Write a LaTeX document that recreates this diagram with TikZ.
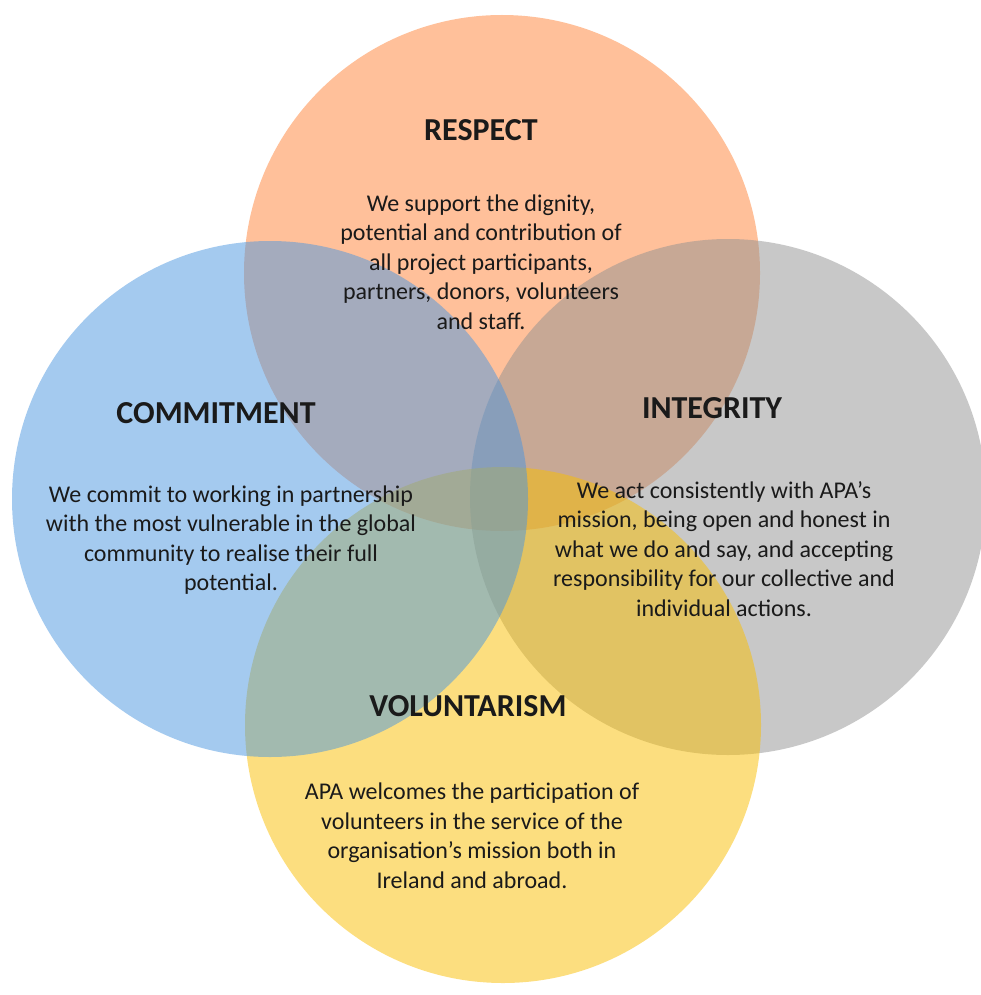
\documentclass[tikz,border=0pt]{standalone}
\usepackage{fontspec}
\setmainfont{Carlito}
\definecolor{respectorange}{HTML}{FF8135}
\definecolor{integritygray}{HTML}{919191}
\definecolor{voluntyellow}{HTML}{FABE00}
\definecolor{commitblue}{HTML}{4A96E0}
\definecolor{txtblack}{HTML}{1A1A1A}
\tikzset{
  venn/.style={circle, minimum size=516pt, inner sep=0pt, fill opacity=0.5},
  headtxt/.style={text=txtblack, font=\fontsize{32}{38}\selectfont\bfseries},
  bodytxt/.style={text=txtblack, align=center, font=\fontsize{24}{29.5}\selectfont},
}
\begin{document}
\begin{tikzpicture}[x=1pt,y=-1pt]
  \useasboundingbox (0,0) rectangle (981,995);
  \begin{scope}[every node/.style={venn}]
    \node[fill=respectorange] (respectC) at (502,273) {};
    \node[fill=integritygray] (integrityC) at (728,497) {};
    \node[fill=voluntyellow] (voluntC) at (503,725) {};
    \node[fill=commitblue] (commitC) at (270,499) {};
  \end{scope}
  % headings
  \begin{scope}[every node/.style={headtxt}]
    \node (respectH) at (481,130) {RESPECT};
    \node (commitH) at (216,413) {COMMITMENT};
    \node (integrityH) at (712,408) {INTEGRITY};
    \node (voluntH) at (468,706) {VOLUNTARISM};
  \end{scope}
  % texts
  \begin{scope}[every node/.style={bodytxt}]
    \node (respectB) at (481,262) {We support the dignity,\\potential and contribution of\\all project participants,\\partners, donors, volunteers\\and staff.};
    \node (commitB) at (231,540) {We commit to working in partnership\\with the most vulnerable in the global\\community to realise their full\\potential.};
    \node (integrityB) at (724,549) {We act consistently with APA’s\\mission, being open and honest in\\what we do and say, and accepting\\responsibility for our collective and\\individual actions.};
    \node (voluntB) at (472,836) {APA welcomes the participation of\\volunteers in the service of the\\organisation’s mission both in\\Ireland and abroad.};
  \end{scope}
\end{tikzpicture}
\end{document}
